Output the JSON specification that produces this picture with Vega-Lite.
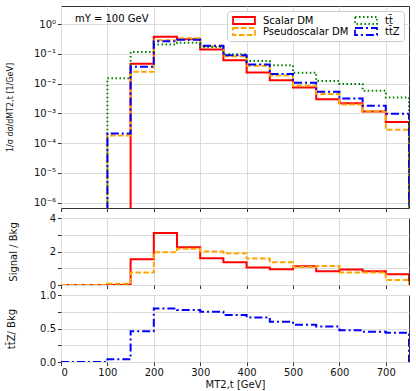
{
  "$schema": "https://vega.github.io/schema/vega-lite/v6.json",
  "padding": {"left": 5, "top": 5, "right": 6, "bottom": 0},
  "spacing": 10,
  "bounds": "flush",
  "config": {
    "font": "DejaVu Sans",
    "view": {"stroke": "#333", "strokeWidth": 1},
    "axis": {
      "gridColor": "#dcdcdc", "gridWidth": 1, "domain": false,
      "tickColor": "#333", "tickSize": 3.5, "labelFontSize": 10, "labelColor": "#111",
      "labelPadding": 2, "titleFontSize": 10, "titleFontWeight": "normal", "titleColor": "#111"
    }
  },
  "datasets": {
    "top": [
      {"x": 0, "v": 1e-9, "s": "Scalar DM"}, {"x": 150, "v": 0.047, "s": "Scalar DM"}, {"x": 200, "v": 0.38, "s": "Scalar DM"}, {"x": 250, "v": 0.31, "s": "Scalar DM"}, {"x": 300, "v": 0.14, "s": "Scalar DM"}, {"x": 350, "v": 0.062, "s": "Scalar DM"}, {"x": 400, "v": 0.024, "s": "Scalar DM"}, {"x": 450, "v": 0.013, "s": "Scalar DM"}, {"x": 500, "v": 0.0075, "s": "Scalar DM"}, {"x": 550, "v": 0.003, "s": "Scalar DM"}, {"x": 600, "v": 0.0022, "s": "Scalar DM"}, {"x": 650, "v": 0.00115, "s": "Scalar DM"}, {"x": 700, "v": 0.00051, "s": "Scalar DM"}, {"x": 750, "v": 1e-9, "s": "Scalar DM"},
      {"x": 0, "v": 1e-9, "s": "Pseudoscalar DM"}, {"x": 100, "v": 0.00018, "s": "Pseudoscalar DM"}, {"x": 150, "v": 0.025, "s": "Pseudoscalar DM"}, {"x": 200, "v": 0.29, "s": "Pseudoscalar DM"}, {"x": 250, "v": 0.34, "s": "Pseudoscalar DM"}, {"x": 300, "v": 0.18, "s": "Pseudoscalar DM"}, {"x": 350, "v": 0.083, "s": "Pseudoscalar DM"}, {"x": 400, "v": 0.04, "s": "Pseudoscalar DM"}, {"x": 450, "v": 0.019, "s": "Pseudoscalar DM"}, {"x": 500, "v": 0.0085, "s": "Pseudoscalar DM"}, {"x": 550, "v": 0.0045, "s": "Pseudoscalar DM"}, {"x": 600, "v": 0.002, "s": "Pseudoscalar DM"}, {"x": 650, "v": 0.00115, "s": "Pseudoscalar DM"}, {"x": 700, "v": 0.00028, "s": "Pseudoscalar DM"}, {"x": 750, "v": 1e-9, "s": "Pseudoscalar DM"},
      {"x": 0, "v": 1e-9, "s": "tt̄"}, {"x": 100, "v": 0.0152, "s": "tt̄"}, {"x": 150, "v": 0.117, "s": "tt̄"}, {"x": 200, "v": 0.21, "s": "tt̄"}, {"x": 250, "v": 0.24, "s": "tt̄"}, {"x": 300, "v": 0.17, "s": "tt̄"}, {"x": 350, "v": 0.098, "s": "tt̄"}, {"x": 400, "v": 0.058, "s": "tt̄"}, {"x": 450, "v": 0.042, "s": "tt̄"}, {"x": 500, "v": 0.0235, "s": "tt̄"}, {"x": 550, "v": 0.0123, "s": "tt̄"}, {"x": 600, "v": 0.0098, "s": "tt̄"}, {"x": 650, "v": 0.0058, "s": "tt̄"}, {"x": 700, "v": 0.0034, "s": "tt̄"}, {"x": 750, "v": 1e-9, "s": "tt̄"},
      {"x": 0, "v": 1e-9, "s": "tt̄Z"}, {"x": 100, "v": 0.00021, "s": "tt̄Z"}, {"x": 150, "v": 0.037, "s": "tt̄Z"}, {"x": 200, "v": 0.27, "s": "tt̄Z"}, {"x": 250, "v": 0.3, "s": "tt̄Z"}, {"x": 300, "v": 0.19, "s": "tt̄Z"}, {"x": 350, "v": 0.09, "s": "tt̄Z"}, {"x": 400, "v": 0.044, "s": "tt̄Z"}, {"x": 450, "v": 0.021, "s": "tt̄Z"}, {"x": 500, "v": 0.0108, "s": "tt̄Z"}, {"x": 550, "v": 0.0054, "s": "tt̄Z"}, {"x": 600, "v": 0.0032, "s": "tt̄Z"}, {"x": 650, "v": 0.0018, "s": "tt̄Z"}, {"x": 700, "v": 0.00098, "s": "tt̄Z"}, {"x": 750, "v": 1e-9, "s": "tt̄Z"}
    ],
    "sig": [
      {"x": 0, "r": 0, "s": "Scalar DM"}, {"x": 150, "r": 1.54, "s": "Scalar DM"}, {"x": 200, "r": 3.1, "s": "Scalar DM"}, {"x": 250, "r": 2.26, "s": "Scalar DM"}, {"x": 300, "r": 1.6, "s": "Scalar DM"}, {"x": 350, "r": 1.36, "s": "Scalar DM"}, {"x": 400, "r": 1.04, "s": "Scalar DM"}, {"x": 450, "r": 0.94, "s": "Scalar DM"}, {"x": 500, "r": 1.12, "s": "Scalar DM"}, {"x": 550, "r": 0.82, "s": "Scalar DM"}, {"x": 600, "r": 0.92, "s": "Scalar DM"}, {"x": 650, "r": 0.82, "s": "Scalar DM"}, {"x": 700, "r": 0.64, "s": "Scalar DM"}, {"x": 750, "r": 0, "s": "Scalar DM"},
      {"x": 0, "r": 0, "s": "Pseudoscalar DM"}, {"x": 100, "r": 0.08, "s": "Pseudoscalar DM"}, {"x": 150, "r": 0.74, "s": "Pseudoscalar DM"}, {"x": 200, "r": 1.96, "s": "Pseudoscalar DM"}, {"x": 250, "r": 2.16, "s": "Pseudoscalar DM"}, {"x": 300, "r": 2.0, "s": "Pseudoscalar DM"}, {"x": 350, "r": 1.9, "s": "Pseudoscalar DM"}, {"x": 400, "r": 1.58, "s": "Pseudoscalar DM"}, {"x": 450, "r": 1.36, "s": "Pseudoscalar DM"}, {"x": 500, "r": 1.08, "s": "Pseudoscalar DM"}, {"x": 550, "r": 1.14, "s": "Pseudoscalar DM"}, {"x": 600, "r": 0.74, "s": "Pseudoscalar DM"}, {"x": 650, "r": 0.74, "s": "Pseudoscalar DM"}, {"x": 700, "r": 0.3, "s": "Pseudoscalar DM"}, {"x": 750, "r": 0, "s": "Pseudoscalar DM"}
    ],
    "ttz": [
      {"x": 0, "r": 0}, {"x": 100, "r": 0.04}, {"x": 150, "r": 0.46}, {"x": 200, "r": 0.8}, {"x": 250, "r": 0.775}, {"x": 300, "r": 0.75}, {"x": 350, "r": 0.7}, {"x": 400, "r": 0.665}, {"x": 450, "r": 0.6}, {"x": 500, "r": 0.555}, {"x": 550, "r": 0.53}, {"x": 600, "r": 0.475}, {"x": 650, "r": 0.45}, {"x": 700, "r": 0.435}, {"x": 750, "r": 0}
    ],
    "note": [{"x": 30, "y": 1.5, "t": "mY = 100 GeV"}]
  },
  "resolve": {"legend": {"color": "independent", "strokeDash": "independent"}},
  "vconcat": [
    {
      "width": 348, "height": 202,
      "layer": [
        {
          "data": {"name": "top"},
          "mark": {"type": "line", "interpolate": "step-after", "strokeWidth": 2, "clip": true},
          "encoding": {
            "x": {"field": "x", "type": "quantitative", "scale": {"domain": [0, 750], "nice": false},
                  "axis": {"values": [0, 100, 200, 300, 400, 500, 600, 700], "labels": false, "title": null}},
            "y": {"field": "v", "type": "quantitative",
                  "scale": {"type": "log", "domain": [6.6e-7, 4.1], "nice": false},
                  "axis": {"values": [1e-6, 1e-5, 1e-4, 1e-3, 1e-2, 1e-1, 1],
                           "labelExpr": "datum.value >= 0.5 ? '10⁰' : datum.value >= 0.05 ? '10⁻¹' : datum.value >= 0.005 ? '10⁻²' : datum.value >= 0.0005 ? '10⁻³' : datum.value >= 0.00005 ? '10⁻⁴' : datum.value >= 0.000005 ? '10⁻⁵' : '10⁻⁶'",
                           "title": "1/σ dσ/dMT2,t [1/GeV]", "titleFontSize": 8, "titlePadding": 19}},
            "color": {"field": "s", "type": "nominal",
                      "scale": {"domain": ["Scalar DM", "Pseudoscalar DM", "tt̄", "tt̄Z"], "range": ["#ff0000", "#ffa500", "#008000", "#0000ff"]},
                      "legend": {"title": null, "orient": "top-right", "offset": 5, "columns": 2, "columnPadding": 4, "rowPadding": 0, "clipHeight": 11,
                                 "symbolType": "M-1.83,-0.58H1.83V0.58H-1.83Z", "symbolSize": 144, "symbolStrokeWidth": 1.8, "symbolOffset": 6,
                                 "labelFontSize": 10, "labelOffset": 12, "fillColor": "white", "strokeColor": "#ccc", "cornerRadius": 3, "padding": 4}},
            "strokeDash": {"field": "s", "type": "nominal",
                      "scale": {"domain": ["Scalar DM", "Pseudoscalar DM", "tt̄", "tt̄Z"], "range": [[1, 0], [5.5, 2.4], [1.5, 2.5], [8, 3, 2, 3]]},
                      "legend": null}
          }
        },
        {
          "data": {"name": "note"},
          "mark": {"type": "text", "align": "left", "baseline": "middle", "fontSize": 10, "font": "DejaVu Sans"},
          "encoding": {
            "x": {"field": "x", "type": "quantitative"},
            "y": {"field": "y", "type": "quantitative"},
            "text": {"field": "t"}
          }
        }
      ]
    },
    {
      "width": 348, "height": 67,
      "data": {"name": "sig"},
      "mark": {"type": "line", "interpolate": "step-after", "strokeWidth": 2, "clip": true},
      "encoding": {
        "x": {"field": "x", "type": "quantitative", "scale": {"domain": [0, 750], "nice": false},
              "axis": {"values": [0, 100, 200, 300, 400, 500, 600, 700], "labels": false, "title": null}},
        "y": {"field": "r", "type": "quantitative", "scale": {"domain": [0, 4], "nice": false},
              "axis": {"values": [0, 1, 2, 3, 4], "labelExpr": "datum.value % 2 == 0 ? datum.label : ''", "title": "Signal / Bkg", "titlePadding": 31}},
        "color": {"field": "s", "type": "nominal", "scale": {"domain": ["Scalar DM", "Pseudoscalar DM", "tt̄", "tt̄Z"], "range": ["#ff0000", "#ffa500", "#008000", "#0000ff"]}, "legend": null},
        "strokeDash": {"field": "s", "type": "nominal", "scale": {"domain": ["Scalar DM", "Pseudoscalar DM", "tt̄", "tt̄Z"], "range": [[1, 0], [5.5, 2.4], [1.5, 2.5], [8, 3, 2, 3]]}, "legend": null}
      }
    },
    {
      "width": 348, "height": 67,
      "data": {"name": "ttz"},
      "mark": {"type": "line", "interpolate": "step-after", "strokeWidth": 2, "color": "#0000ff", "strokeDash": [8, 3, 2, 3], "clip": true},
      "encoding": {
        "x": {"field": "x", "type": "quantitative", "scale": {"domain": [0, 750], "nice": false},
              "axis": {"values": [0, 100, 200, 300, 400, 500, 600, 700], "title": "MT2,t [GeV]", "titlePadding": 2}},
        "y": {"field": "r", "type": "quantitative", "scale": {"domain": [0, 1], "nice": false},
              "axis": {"values": [0, 0.25, 0.5, 0.75, 1], "labelExpr": "(datum.value * 4) % 2 == 0 ? format(datum.value, '.1f') : ''", "title": "tt̄Z/ Bkg", "titlePadding": 23}}
      }
    }
  ]
}
